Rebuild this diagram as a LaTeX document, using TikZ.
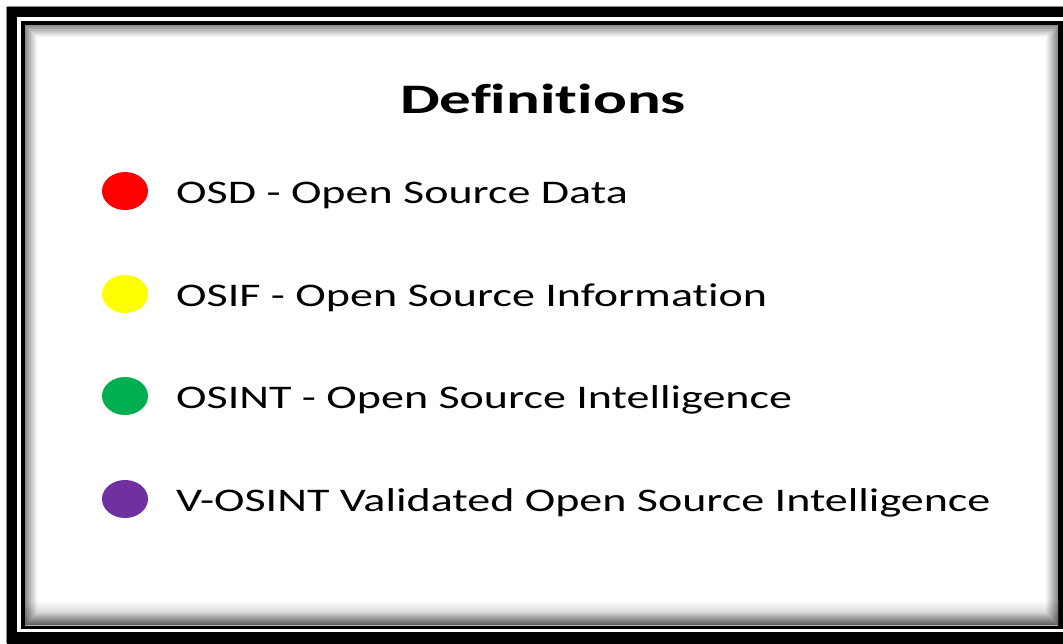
\documentclass[tikz,border=0pt]{standalone}
\usepackage{fontspec}
\setmainfont[Ligatures=NoCommon]{Carlito}
\usepackage{graphicx}
\definecolor{osdred}{HTML}{FF0000}
\definecolor{osifyellow}{HTML}{FFFF00}
\definecolor{osintgreen}{HTML}{00B050}
\definecolor{vosintpurple}{HTML}{7030A0}
\tikzset{
  bullet/.style={ellipse, minimum width=46pt, minimum height=38pt, inner sep=0pt},
  deftext/.style={anchor=base west, inner sep=0pt, font=\fontsize{33pt}{36pt}\selectfont},
  titletext/.style={anchor=base, inner sep=0pt, font=\fontsize{42pt}{46pt}\selectfont\bfseries}
}
\usetikzlibrary{shapes.geometric}
\begin{document}
\begin{tikzpicture}[x=1pt,y=-1pt]
\useasboundingbox (0,0) rectangle (1063,643);
\fill[white] (0,0) rectangle (1063,643);
% outer band
\fill[black] (7,7) rectangle (1070,650);
\draw[black!45, line width=0.8pt] (6.5,6.5) -- (1063,6.5);
\draw[black!45, line width=0.8pt] (6.5,6.5) -- (6.5,643);
\fill[white] (17,17) rectangle (1064,632);
\fill[black] (21,21) rectangle (1063,629);
\fill[white] (25,25) rectangle (1058,625);
% inner shadow
\shade[top color=white, bottom color=black!30] (25,600) rectangle (1058,625);
\foreach \i in {0,...,11}{
  \pgfmathsetmacro{\op}{0.45*(1-\i/12)}
  \draw[black, draw opacity=\op, line width=1pt] (25.5+\i,25.5+\i) rectangle (1057.5-\i,624.5-\i);
}
% title
\node[titletext] (title) at (543,113) {\scalebox{1.5}[1]{Definitions}};
% bullets
\node[bullet, fill=osdred] (b1) at (125,191) {};
\node[bullet, fill=osifyellow] (b2) at (125,294) {};
\node[bullet, fill=osintgreen] (b3) at (125,396) {};
\node[bullet, fill=vosintpurple] (b4) at (125,499) {};
% texts
\node[deftext] (t1) at (176,203) {\scalebox{1.395}[1]{OSD - Open Source Data}};
\node[deftext] (t2) at (176,306) {\scalebox{1.395}[1]{OSIF - Open Source Information}};
\node[deftext] (t3) at (176,408) {\scalebox{1.395}[1]{OSINT - Open Source Intelligence}};
\node[deftext] (t4) at (176,511) {\scalebox{1.395}[1]{V-OSINT Validated Open Source Intelligence}};
\end{tikzpicture}
\end{document}
